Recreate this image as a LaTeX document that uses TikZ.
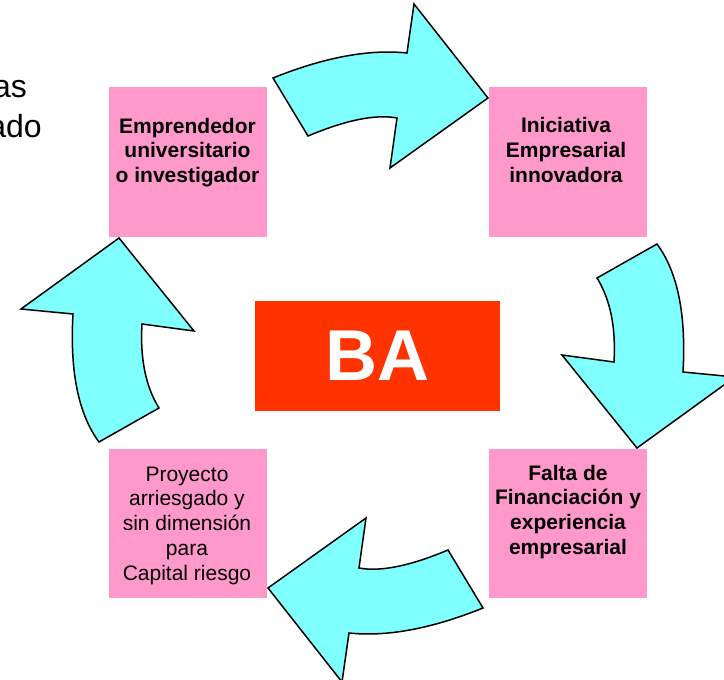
\documentclass[tikz,border=0pt]{standalone}
\usepackage{fontspec}
\setmainfont{Liberation Sans}
\definecolor{boxpink}{HTML}{FF99CC}
\definecolor{arrowcyan}{HTML}{80FFFF}
\definecolor{bared}{HTML}{FF3300}
\newcommand{\linestack}[1]{\begin{tabular}[t]{@{}c@{}}#1\end{tabular}}
\tikzset{
  box/.style={fill=boxpink, draw=none, minimum width=158pt, minimum height=150pt, inner sep=0pt, anchor=north west},
  cyclearrow/.style={fill=arrowcyan, draw=black, line width=1.5pt, line join=miter},
  boxtext/.style={anchor=base, inner sep=0pt, font=\fontsize{21}{24.8}\selectfont},
  bigtext/.style={anchor=base east, inner sep=0pt, font=\fontsize{32}{38}\selectfont},
}
\begin{document}
\begin{tikzpicture}[x=1pt,y=-1pt]
\useasboundingbox (0,0) rectangle (724,680);

% partial title text at the left edge
\node[bigtext] (t1) at (27,97) {as};
\node[bigtext] (t2) at (42,137) {ado};

% curved arrows
\begin{scope}
  \draw[cyclearrow] (273,78) .. controls (324.3,57.3) and (369,49) .. (407,53) -- (414,4) -- (488,98) -- (390,168) -- (397,118) .. controls (375.7,114) and (346,120) .. (308,136) -- cycle;
  \draw[cyclearrow] (657,244) .. controls (677.7,272) and (686.3,314.7) .. (683,372) -- (735,377) -- (637,448) -- (562,355) -- (614,362) .. controls (616,327.3) and (610.3,299.3) .. (597,278) -- cycle;
\end{scope}
\begin{scope}[rotate around={180:(378,343)}]
  \draw[cyclearrow] (273,78) .. controls (324.3,57.3) and (369,49) .. (407,53) -- (414,4) -- (488,98) -- (390,168) -- (397,118) .. controls (375.7,114) and (346,120) .. (308,136) -- cycle;
  \draw[cyclearrow] (657,244) .. controls (677.7,272) and (686.3,314.7) .. (683,372) -- (735,377) -- (637,448) -- (562,355) -- (614,362) .. controls (616,327.3) and (610.3,299.3) .. (597,278) -- cycle;
\end{scope}

% boxes
\node[box] (tl) at (109,87) {};
\node[box] (tr) at (489,87) {};
\node[box, minimum height=149pt] (bl) at (109,449) {};
\node[box, minimum height=149pt] (br) at (489,449) {};

\node[boxtext] (tltext) at (187.5,133) {\bfseries\linestack{Emprendedor\\universitario\\o investigador}};
\node[boxtext] (trtext) at (566,132.5) {\bfseries\linestack{Iniciativa\\Empresarial\\innovadora}};
\node[boxtext] (brtext) at (568,480) {\bfseries\linestack{Falta de\\Financiación y\\experiencia\\empresarial}};
\node[boxtext] (bltext) at (187,481) {\linestack{Proyecto\\arriesgado y\\sin dimensión\\para\\Capital riesgo}};

% centre
\node[fill=bared, minimum width=245pt, minimum height=110pt, inner sep=0pt, text=white, font=\fontsize{72}{72}\selectfont\bfseries] (ba) at (377.5,356) {BA};
\end{tikzpicture}
\end{document}
